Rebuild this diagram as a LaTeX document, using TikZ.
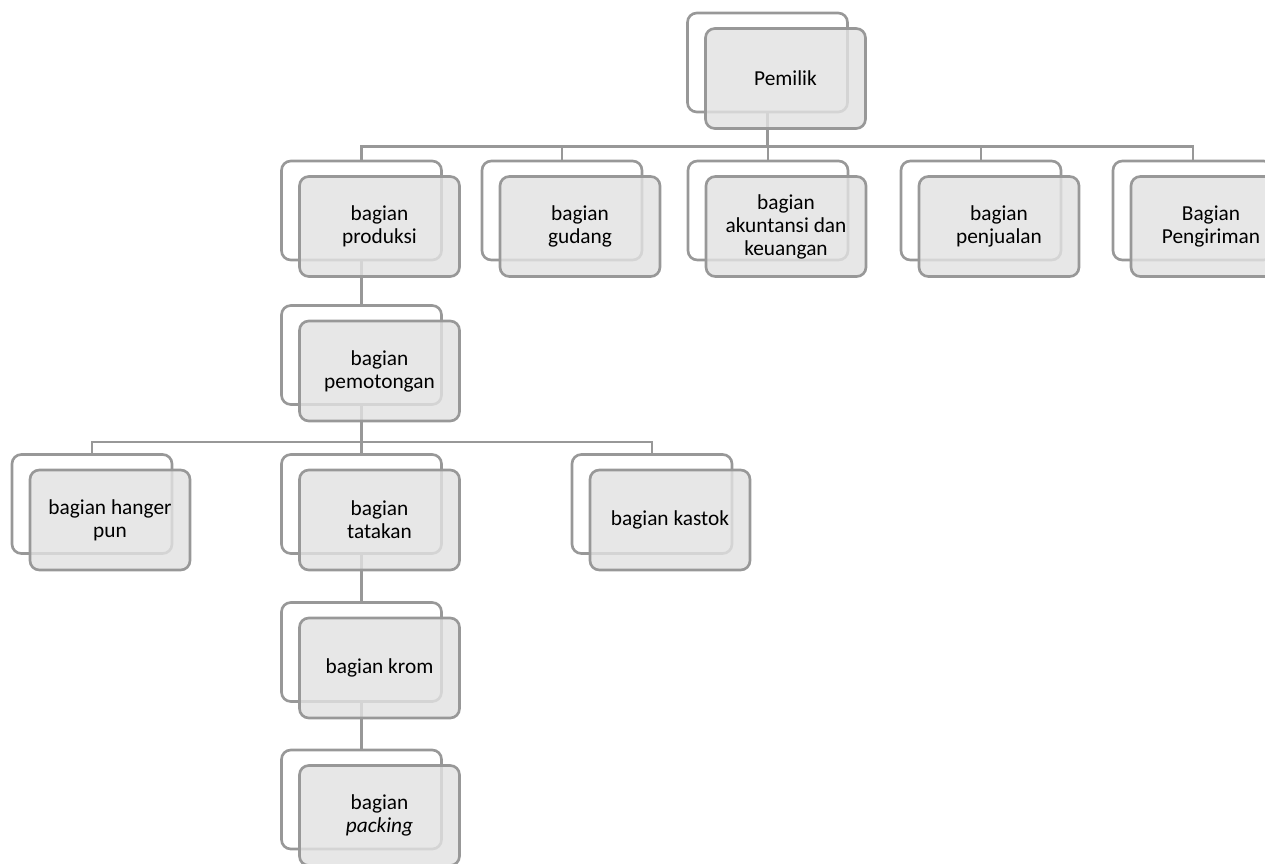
\documentclass[tikz,border=0pt]{standalone}
\usepackage{fontspec}
\setmainfont{Carlito}
\usetikzlibrary{backgrounds}

\definecolor{boxline}{RGB}{152,152,152}
\definecolor{boxfill}{RGB}{226,226,226}

\tikzset{every picture/.style={line width=2pt}}
\tikzset{
  backbox/.style={draw=boxline, rounded corners=7pt, minimum width=120pt, minimum height=74.25pt, inner sep=0pt},
  frontbox/.style={draw=boxline, fill=boxfill, fill opacity=0.82, text opacity=1, rounded corners=7pt,
    minimum width=120pt, minimum height=75pt, inner sep=2pt, align=center, font=\fontsize{16}{17.3}\selectfont},
  link/.style={draw=boxline, line width=2pt}
}

% one unit of the chart: outline box behind, shaded box in front
\newcommand{\orgunit}[4]{%
  \node[backbox] (#1-b) at (#2,#3) {};
  \node[frontbox] (#1) at (#2+18,#3+16) {#4};
}

\begin{document}
\begin{tikzpicture}[x=0.75pt,y=0.75pt,yscale=-1]
\useasboundingbox (0,0) rectangle (1265,864);

% Level 0
\orgunit{pemilik}{767.5}{62.5}{Pemilik}

% Level 1
\orgunit{produksi}{361.5}{210.5}{bagian\\produksi}
\orgunit{gudang}{562}{210.5}{bagian\\gudang}
\orgunit{akuntansi}{768}{210.5}{bagian\\akuntansi dan\\keuangan}
\orgunit{penjualan}{981}{210.5}{bagian\\penjualan}
\orgunit{pengiriman}{1193}{210.5}{Bagian\\Pengiriman}

% Level 2
\orgunit{pemotongan}{361.5}{355}{bagian\\pemotongan}

% Level 3
\orgunit{hanger}{92}{504}{bagian hanger\\pun}
\orgunit{tatakan}{361.5}{504}{bagian\\tatakan}
\orgunit{kastok}{652}{504}{bagian kastok}

% Level 4 and 5
\orgunit{krom}{361.5}{652}{bagian krom}
\orgunit{packing}{361.5}{799.5}{bagian\\\textit{packing}}

% Connectors
\begin{scope}[on background layer]
\foreach \child in {produksi,gudang,akuntansi,penjualan,pengiriman}
  \draw[link] (pemilik-b.south) -- ++(0,33) -| (\child-b.north);
\draw[link] (produksi-b.south) -- (pemotongan-b.north);
\foreach \child in {hanger,tatakan,kastok}
  \draw[link] (pemotongan-b.south) -- ++(0,36) -| (\child-b.north);
\draw[link] (tatakan-b.south) -- (krom-b.north);
\draw[link] (krom-b.south) -- (packing-b.north);
\end{scope}

\end{tikzpicture}
\end{document}
